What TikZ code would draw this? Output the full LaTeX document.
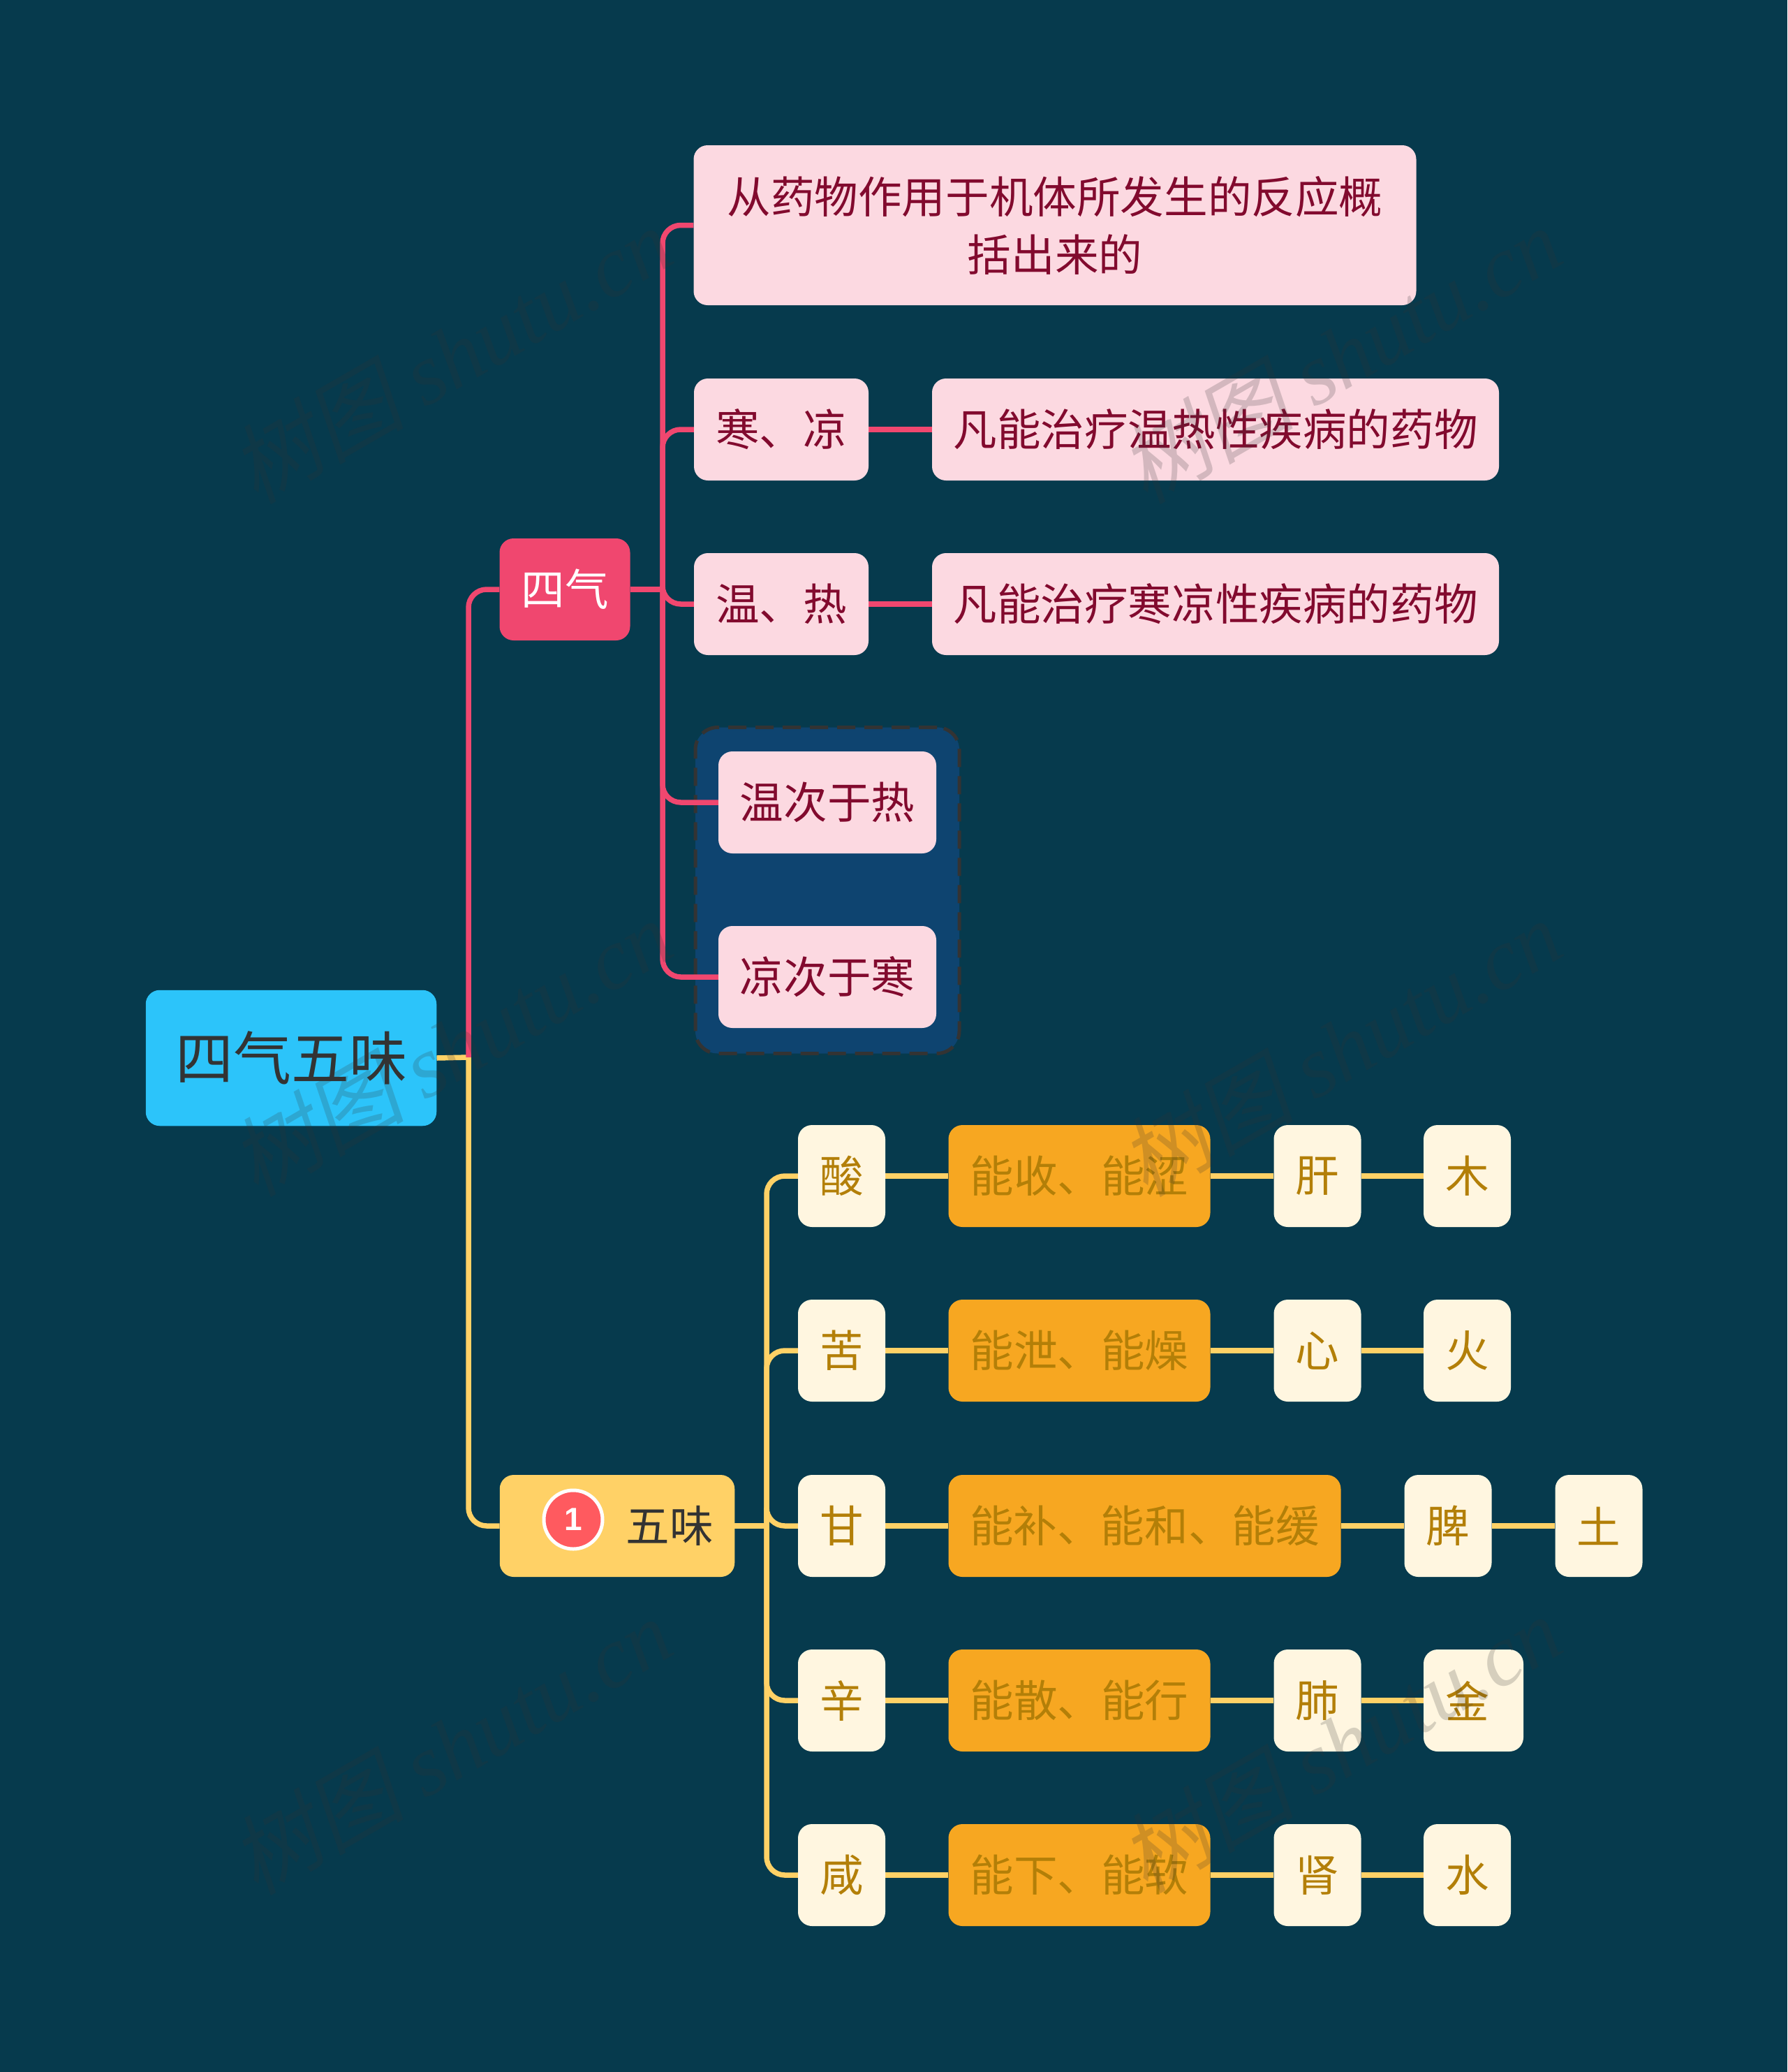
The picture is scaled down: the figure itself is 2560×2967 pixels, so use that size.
\documentclass[tikz,border=0pt]{standalone}
\usepackage{fontspec}
\setmainfont{Noto Sans CJK SC}
\newfontfamily\wmlatin{Liberation Serif}
\newfontfamily\wmcjk[FakeSlant=0.2]{Noto Sans CJK SC}
\newfontfamily\badgefont{Liberation Sans}
\pgfdeclarelayer{under}
\pgfsetlayers{under,main}
\definecolor{bgc}{HTML}{063A4D}
\definecolor{rootc}{HTML}{2CC4FA}
\definecolor{redc}{HTML}{F0476F}
\definecolor{pinkc}{HTML}{FCD9E1}
\definecolor{pinkt}{HTML}{820A2E}
\definecolor{yelc}{HTML}{FFD166}
\definecolor{creamc}{HTML}{FFF6E0}
\definecolor{orc}{HTML}{F7A721}
\definecolor{ort}{HTML}{B37F08}
\definecolor{grpc}{HTML}{0E4470}
\definecolor{darkt}{HTML}{333333}
\definecolor{badge}{HTML}{FF5A5F}
\tikzset{
  box/.style={rounded corners=20pt,inner sep=0pt,align=center,font=\fontsize{62.6}{83}\selectfont},
  rootbox/.style={box,fill=rootc,text=darkt,font=\fontsize{83}{100}\selectfont,minimum width=416.5pt,minimum height=194.5pt},
  qibox/.style={box,fill=redc,text=white,minimum width=187pt,minimum height=146pt},
  pink/.style={box,fill=pinkc,text=pinkt,minimum height=146pt},
  grpbox/.style={rounded corners=32pt,fill=grpc,draw=darkt,line width=5pt,dash pattern=on 26pt off 13pt,minimum width=378pt,minimum height=467pt,inner sep=0pt},
  wubox/.style={box,fill=yelc,text=darkt,minimum width=336.5pt,minimum height=146pt},
  cream/.style={box,fill=creamc,text=ort,minimum height=146pt,minimum width=125pt},
  orbox/.style={box,fill=orc,text=ort,minimum height=146pt,minimum width=375pt},
  redl/.style={draw=redc,line width=7.5pt,rounded corners=26pt},
  yell/.style={draw=yelc,line width=7.5pt,rounded corners=26pt},
  badgec/.style={circle,fill=badge,draw=white,line width=5pt,minimum size=84pt,inner sep=0pt,text=white,font=\badgefont\bfseries\fontsize{46}{46}\selectfont},
  wm/.style={rotate=30,text=darkt,text opacity=.2,inner sep=0pt,font=\fontsize{125}{125}\selectfont},
}
\newcommand{\wmtext}{{\wmcjk 树图} {\wmlatin\itshape shutu.cn}}
\begin{document}
\begin{tikzpicture}[x=1pt,y=-1pt]
\begin{pgfonlayer}{under}
\path[use as bounding box,fill=bgc] (0,0) rectangle (2560,2967);
\node[grpbox] (grp) at (1185,1275) {};
\end{pgfonlayer}
% junctions
\coordinate (trunk) at (671,1514);
\coordinate (sq) at (949,844);
\coordinate (sw) at (1098,2185);
% nodes
\node[rootbox] (root) at (417,1515) {四气五味};
\node[qibox] (qi) at (809,844) {四气};
\node[wubox] (wu) at (884,2185) {};
\node[pink,minimum width=1035pt,minimum height=229pt] (p1) at (1511,322.5) {从药物作用于机体所发生的反应概\\括出来的};
\node[pink,minimum width=250pt] (p2) at (1119,615) {寒、凉};
\node[pink,minimum width=812pt] (p2b) at (1741,615) {凡能治疗温热性疾病的药物};
\node[pink,minimum width=250pt] (p3) at (1119,865) {温、热};
\node[pink,minimum width=812pt] (p3b) at (1741,865) {凡能治疗寒凉性疾病的药物};
\node[pink,minimum width=312pt] (p4) at (1185,1149) {温次于热};
\node[pink,minimum width=312pt] (p5) at (1185,1399) {凉次于寒};
% row 1
\node[cream] (a1) at (1205.5,1684) {酸};
\node[orbox] (a2) at (1546,1684) {能收、能涩};
\node[cream] (a3) at (1887,1684) {肝};
\node[cream] (a4) at (2101.5,1684) {木};
% row 2
\node[cream] (b1) at (1205.5,1934) {苦};
\node[orbox] (b2) at (1546,1934) {能泄、能燥};
\node[cream] (b3) at (1887,1934) {心};
\node[cream] (b4) at (2101.5,1934) {火};
% row 3
\node[cream] (c1) at (1205.5,2185) {甘};
\node[orbox,minimum width=562pt] (c2) at (1639.5,2185) {能补、能和、能缓};
\node[cream] (c3) at (2074,2185) {脾};
\node[cream] (c4) at (2290,2185) {土};
% row 4
\node[cream] (d1) at (1205.5,2435) {辛};
\node[orbox] (d2) at (1546,2435) {能散、能行};
\node[cream] (d3) at (1887,2435) {肺};
\node[cream,minimum width=143pt] (d4) at (2110.5,2435) {\hspace*{-18pt}金};
% row 5
\node[cream] (e1) at (1205.5,2685) {咸};
\node[orbox] (e2) at (1546,2685) {能下、能软};
\node[cream] (e3) at (1887,2685) {肾};
\node[cream] (e4) at (2101.5,2685) {水};
% label and badge of the five-tastes node
\node[badgec] (bd) at (821,2176) {1};
\node[inner sep=0pt,text=darkt,font=\fontsize{62.6}{83}\selectfont] (wul) at (959,2185) {五味};
% connectors under the nodes
\begin{pgfonlayer}{under}
\draw[yell] (root.east) -- (trunk);
\draw[yell] (trunk) |- (wu.west);
\draw[redl] (trunk) |- (qi.west);
\draw[redl] (qi.east) -- (sq);
\foreach \n in {p1,p2,p3,p4,p5} \draw[redl] (sq) |- (\n.west);
\draw[redl] (p2.east) -- (p2b.west);
\draw[redl] (p3.east) -- (p3b.west);
\draw[yell] (wu.east) -- (sw);
\foreach \n in {a1,b1,c1,d1,e1} \draw[yell] (sw) |- (\n.west);
\foreach \r in {a,b,c,d,e} {
  \draw[yell] (\r1.east) -- (\r2.west);
  \draw[yell] (\r2.east) -- (\r3.west);
  \draw[yell] (\r3.east) -- (\r4.west);
}
\end{pgfonlayer}
% watermark over everything
\foreach \wx/\wy [count=\wi] in {646/508,1920/508,646/1500,1920/1500,646/2500,1920/2497}
  \node[wm] (wm\wi) at (\wx,\wy) {\wmtext};
\end{tikzpicture}
\end{document}
